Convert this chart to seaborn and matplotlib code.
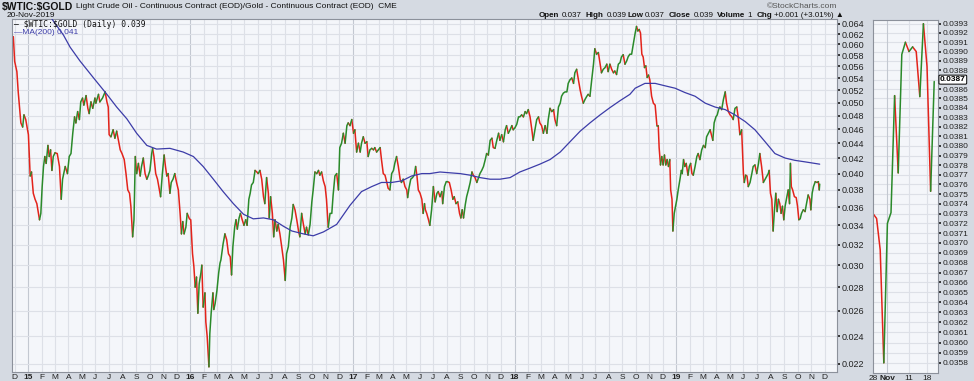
import pandas as pd
import numpy as np
import seaborn as sns
import matplotlib.pyplot as plt
from matplotlib.ticker import FixedLocator, NullLocator, FuncFormatter
from matplotlib.transforms import blended_transform_factory

# ---- data ----
START = pd.Timestamp("2014-11-28")

# days after START, daily close of $WTIC:$GOLD (sampled about twice a week)
price_days = [
    0, 3, 8, 11, 17, 21, 24, 28, 32, 34, 38, 41, 45, 49, 53, 59, 62, 65, 68, 71,
    74, 78, 81, 84, 87, 90, 94, 99, 104, 108, 111, 117, 122, 126, 130, 134, 138, 141, 145, 149,
    152, 156, 159, 164, 168, 171, 175, 179, 184, 186, 192, 195, 201, 207, 211, 214, 216, 220, 225, 229,
    233, 237, 241, 245, 250, 254, 258, 262, 265, 269, 272, 275, 278, 282, 286, 289, 293, 297, 301, 304,
    308, 312, 314, 317, 321, 325, 328, 332, 336, 340, 343, 346, 349, 353, 356, 360, 364, 368, 372, 376,
    379, 382, 385, 389, 392, 397, 400, 404, 407, 410, 413, 416, 419, 423, 425, 428, 432, 434, 437, 441,
    443, 446, 450, 452, 455, 459, 463, 466, 468, 473, 477, 481, 485, 489, 492, 495, 499, 502, 505, 509,
    512, 516, 520, 524, 527, 531, 534, 537, 541, 545, 549, 552, 556, 560, 564, 567, 571, 575, 577, 580,
    584, 587, 590, 594, 597, 601, 605, 609, 613, 616, 620, 624, 628, 631, 635, 639, 643, 646, 650, 654,
    658, 661, 665, 669, 673, 676, 680, 684, 688, 691, 695, 699, 703, 706, 710, 714, 718, 721, 725, 729,
    733, 736, 740, 744, 748, 752, 755, 759, 763, 767, 770, 774, 778, 782, 785, 789, 793, 797, 800, 804,
    808, 812, 815, 819, 823, 827, 830, 834, 838, 842, 845, 849, 853, 857, 860, 864, 868, 872, 875, 879,
    883, 887, 889, 892, 896, 900, 904, 907, 910, 913, 917, 921, 924, 927, 929, 932, 936, 939, 943, 947,
    951, 955, 958, 962, 966, 968, 972, 976, 979, 983, 987, 991, 994, 998, 1002, 1006, 1009, 1012, 1015, 1019,
    1022, 1026, 1030, 1034, 1037, 1041, 1045, 1049, 1052, 1056, 1060, 1064, 1067, 1071, 1075, 1079, 1082, 1086, 1090, 1094,
    1097, 1101, 1105, 1109, 1112, 1116, 1120, 1124, 1127, 1131, 1135, 1139, 1142, 1146, 1150, 1154, 1157, 1161, 1165, 1169,
    1172, 1176, 1180, 1184, 1187, 1191, 1195, 1199, 1203, 1206, 1210, 1214, 1218, 1221, 1225, 1229, 1233, 1236, 1240, 1244,
    1248, 1251, 1255, 1259, 1263, 1266, 1270, 1274, 1278, 1281, 1285, 1289, 1293, 1296, 1300, 1304, 1308, 1311, 1315, 1319,
    1323, 1326, 1330, 1334, 1338, 1341, 1345, 1349, 1353, 1356, 1360, 1364, 1368, 1371, 1375, 1379, 1383, 1386, 1390, 1394,
    1398, 1402, 1405, 1408, 1411, 1414, 1417, 1420, 1423, 1426, 1429, 1432, 1435, 1439, 1443, 1447, 1451, 1454, 1456, 1459,
    1462, 1465, 1468, 1471, 1474, 1477, 1480, 1482, 1485, 1487, 1490, 1493, 1496, 1499, 1503, 1506, 1508, 1511, 1514, 1517,
    1521, 1524, 1527, 1530, 1533, 1537, 1541, 1544, 1548, 1552, 1556, 1560, 1563, 1567, 1571, 1575, 1577, 1580, 1584, 1587,
    1590, 1593, 1597, 1601, 1605, 1608, 1612, 1616, 1620, 1623, 1627, 1631, 1635, 1638, 1642, 1646, 1648, 1651, 1654, 1657,
    1661, 1665, 1668, 1672, 1676, 1680, 1683, 1687, 1691, 1695, 1699, 1702, 1704, 1707, 1710, 1713, 1716, 1719, 1722, 1725,
    1728, 1731, 1734, 1737, 1740, 1744, 1747, 1750, 1752, 1754, 1757, 1761, 1765, 1768, 1771, 1774, 1777, 1781, 1785, 1789,
    1792, 1796, 1798, 1801, 1804, 1808, 1812, 1815, 1817, 1818,
]
price_vals = [
    0.0615, 0.0569, 0.0551, 0.0517, 0.0469, 0.0463, 0.0481, 0.0474, 0.0459, 0.0452, 0.0397, 0.0402, 0.0376, 0.0369, 0.0364, 0.0346, 0.0353, 0.0384, 0.0409, 0.0422,
    0.0413, 0.0437, 0.0422, 0.0431, 0.0404, 0.0422, 0.0427, 0.0426, 0.0409, 0.0369, 0.0393, 0.0409, 0.0400, 0.0422, 0.0426, 0.0454, 0.0478, 0.0469, 0.0486, 0.0474,
    0.0501, 0.0507, 0.0496, 0.0511, 0.0491, 0.0483, 0.0501, 0.0491, 0.0507, 0.0499, 0.0513, 0.0501, 0.0507, 0.0517, 0.0501, 0.0493, 0.0452, 0.0449, 0.0459, 0.0447,
    0.0457, 0.0444, 0.0431, 0.0426, 0.0418, 0.0400, 0.0380, 0.0376, 0.0361, 0.0328, 0.0346, 0.0422, 0.0400, 0.0413, 0.0397, 0.0409, 0.0420, 0.0400, 0.0393, 0.0397,
    0.0404, 0.0426, 0.0433, 0.0422, 0.0400, 0.0393, 0.0384, 0.0372, 0.0400, 0.0424, 0.0409, 0.0397, 0.0400, 0.0376, 0.0389, 0.0393, 0.0400, 0.0389, 0.0380, 0.0353,
    0.0331, 0.0344, 0.0331, 0.0338, 0.0353, 0.0347, 0.0346, 0.0311, 0.0299, 0.0280, 0.0289, 0.0258, 0.0283, 0.0293, 0.0300, 0.0263, 0.0275, 0.0251, 0.0240, 0.0218,
    0.0242, 0.0258, 0.0275, 0.0261, 0.0266, 0.0277, 0.0293, 0.0302, 0.0305, 0.0321, 0.0331, 0.0325, 0.0311, 0.0308, 0.0291, 0.0318, 0.0338, 0.0346, 0.0336, 0.0348,
    0.0353, 0.0346, 0.0340, 0.0346, 0.0340, 0.0369, 0.0376, 0.0386, 0.0389, 0.0404, 0.0402, 0.0400, 0.0404, 0.0393, 0.0372, 0.0364, 0.0395, 0.0376, 0.0348, 0.0372,
    0.0353, 0.0328, 0.0346, 0.0334, 0.0341, 0.0331, 0.0318, 0.0305, 0.0286, 0.0311, 0.0318, 0.0338, 0.0348, 0.0363, 0.0357, 0.0346, 0.0334, 0.0328, 0.0353, 0.0341,
    0.0331, 0.0338, 0.0330, 0.0341, 0.0366, 0.0380, 0.0402, 0.0400, 0.0404, 0.0398, 0.0402, 0.0391, 0.0384, 0.0369, 0.0338, 0.0353, 0.0353, 0.0374, 0.0397, 0.0400,
    0.0380, 0.0434, 0.0440, 0.0454, 0.0440, 0.0465, 0.0469, 0.0465, 0.0474, 0.0454, 0.0459, 0.0428, 0.0440, 0.0428, 0.0440, 0.0449, 0.0440, 0.0442, 0.0422, 0.0431,
    0.0433, 0.0431, 0.0434, 0.0428, 0.0431, 0.0434, 0.0418, 0.0400, 0.0398, 0.0389, 0.0382, 0.0380, 0.0400, 0.0404, 0.0413, 0.0422, 0.0409, 0.0393, 0.0389, 0.0393,
    0.0384, 0.0380, 0.0371, 0.0382, 0.0393, 0.0395, 0.0398, 0.0409, 0.0397, 0.0380, 0.0376, 0.0369, 0.0353, 0.0364, 0.0357, 0.0353, 0.0346, 0.0340, 0.0357, 0.0384,
    0.0366, 0.0376, 0.0378, 0.0372, 0.0378, 0.0364, 0.0384, 0.0390, 0.0390, 0.0389, 0.0380, 0.0369, 0.0372, 0.0364, 0.0366, 0.0353, 0.0348, 0.0357, 0.0348, 0.0363,
    0.0372, 0.0380, 0.0389, 0.0402, 0.0398, 0.0395, 0.0389, 0.0395, 0.0400, 0.0404, 0.0409, 0.0418, 0.0426, 0.0424, 0.0444, 0.0447, 0.0434, 0.0433, 0.0444, 0.0454,
    0.0444, 0.0452, 0.0442, 0.0459, 0.0465, 0.0454, 0.0459, 0.0465, 0.0459, 0.0462, 0.0467, 0.0478, 0.0478, 0.0481, 0.0478, 0.0486, 0.0483, 0.0489, 0.0478, 0.0459,
    0.0444, 0.0459, 0.0474, 0.0478, 0.0469, 0.0465, 0.0454, 0.0465, 0.0454, 0.0474, 0.0491, 0.0486, 0.0489, 0.0474, 0.0465, 0.0493, 0.0499, 0.0510, 0.0515, 0.0517,
    0.0517, 0.0531, 0.0537, 0.0540, 0.0531, 0.0549, 0.0555, 0.0537, 0.0520, 0.0510, 0.0499, 0.0505, 0.0510, 0.0513, 0.0510, 0.0537, 0.0564, 0.0592, 0.0582, 0.0585,
    0.0564, 0.0549, 0.0555, 0.0558, 0.0564, 0.0551, 0.0564, 0.0555, 0.0549, 0.0552, 0.0546, 0.0564, 0.0567, 0.0577, 0.0581, 0.0564, 0.0570, 0.0577, 0.0582, 0.0582,
    0.0602, 0.0622, 0.0635, 0.0626, 0.0629, 0.0622, 0.0582, 0.0577, 0.0558, 0.0561, 0.0541, 0.0545, 0.0537, 0.0510, 0.0499, 0.0496, 0.0465, 0.0465, 0.0434, 0.0411,
    0.0422, 0.0411, 0.0424, 0.0411, 0.0418, 0.0409, 0.0418, 0.0380, 0.0369, 0.0334, 0.0353, 0.0361, 0.0369, 0.0380, 0.0393, 0.0404, 0.0400, 0.0418, 0.0409, 0.0413,
    0.0398, 0.0409, 0.0413, 0.0400, 0.0398, 0.0409, 0.0422, 0.0426, 0.0418, 0.0431, 0.0437, 0.0434, 0.0449, 0.0454, 0.0459, 0.0449, 0.0444, 0.0469, 0.0478, 0.0481,
    0.0489, 0.0493, 0.0489, 0.0505, 0.0517, 0.0499, 0.0486, 0.0481, 0.0478, 0.0474, 0.0491, 0.0493, 0.0474, 0.0452, 0.0459, 0.0400, 0.0389, 0.0398, 0.0397, 0.0384,
    0.0389, 0.0400, 0.0409, 0.0411, 0.0400, 0.0413, 0.0426, 0.0409, 0.0389, 0.0393, 0.0397, 0.0400, 0.0404, 0.0376, 0.0369, 0.0334, 0.0357, 0.0376, 0.0355, 0.0369,
    0.0364, 0.0353, 0.0361, 0.0346, 0.0361, 0.0372, 0.0380, 0.0364, 0.0413, 0.0384, 0.0380, 0.0372, 0.0371, 0.0361, 0.0346, 0.0347, 0.0353, 0.0357, 0.0355, 0.0366,
    0.0374, 0.0369, 0.0357, 0.0376, 0.0384, 0.0390, 0.0389, 0.0390, 0.0380, 0.0387,
]

# 200-day moving average
ma_days = [
    87, 113, 128, 150, 180, 211, 233, 256, 278, 301, 323, 353, 383, 406, 428, 451, 473, 496, 519, 541,
    564, 586, 609, 628, 654, 676, 699, 729, 759, 785, 808, 830, 853, 876, 898, 921, 939, 962, 984, 1007,
    1030, 1052, 1075, 1097, 1120, 1142, 1165, 1187, 1210, 1233, 1255, 1278, 1300, 1323, 1345, 1368, 1390, 1402, 1424, 1447,
    1469, 1492, 1514, 1537, 1560, 1582, 1605, 1627, 1650, 1672, 1695, 1717, 1740, 1762, 1785, 1807, 1818,
]
ma_vals = [
    0.0650, 0.0618, 0.0595, 0.0570, 0.0541, 0.0513, 0.0493, 0.0475, 0.0454, 0.0437, 0.0432, 0.0433, 0.0428, 0.0422, 0.0409, 0.0393, 0.0378, 0.0364, 0.0352, 0.0347,
    0.0348, 0.0346, 0.0339, 0.0334, 0.0331, 0.0329, 0.0333, 0.0341, 0.0362, 0.0378, 0.0384, 0.0389, 0.0389, 0.0391, 0.0397, 0.0400, 0.0400, 0.0402, 0.0401, 0.0400,
    0.0398, 0.0395, 0.0393, 0.0393, 0.0395, 0.0402, 0.0407, 0.0412, 0.0418, 0.0428, 0.0442, 0.0457, 0.0469, 0.0481, 0.0492, 0.0503, 0.0513, 0.0523, 0.0531, 0.0531,
    0.0527, 0.0523, 0.0516, 0.0510, 0.0499, 0.0493, 0.0489, 0.0481, 0.0471, 0.0459, 0.0442, 0.0426, 0.0420, 0.0417, 0.0415, 0.0413, 0.0412,
]

# last month zoom panel (trading days)
zoom_labels = ["Oct 28", "Oct 29", "Oct 30", "Oct 31", "Nov 1", "Nov 4", "Nov 5", "Nov 6", "Nov 7",
               "Nov 8", "Nov 11", "Nov 12", "Nov 13", "Nov 14", "Nov 15", "Nov 18", "Nov 19", "Nov 20"]
zoom_vals = [0.03730, 0.03725, 0.03693, 0.03580, 0.03720, 0.03731, 0.03853, 0.03772, 0.03897,
             0.03910, 0.03900, 0.03905, 0.03900, 0.03852, 0.03930, 0.03884, 0.03753, 0.03868]
last_label = "0.0387"

main_ticks = [round(0.022 + 0.002 * i, 3) for i in range(22)]
zoom_ticks = [round(0.0358 + 0.0001 * i, 4) for i in range(36)]

# quote line in the header: (label, value, x of label, x of value)
stats = [("Open", "0.037", 539, 562), ("High", "0.039", 585, 607), ("Low", "0.037", 627, 645),
         ("Close", "0.039", 669, 694), ("Volume", "1", 717, 747), ("Chg", "+0.001 (+3.01%) \u25b2", 757, 774)]

UP = "#2a8a2a"
DOWN = "#e3231b"
MA_COLOR = "#3c3ca8"


def up_down_runs(x, y):
    # split a series into runs of rising / falling segments so each run gets one colour
    rows = []
    run, prev = 0, None
    for i in range(len(y) - 1):
        d = "up" if y[i + 1] >= y[i] else "down"
        if d != prev:
            run += 1
            rows.append((run, d, x[i], y[i]))
        rows.append((run, d, x[i + 1], y[i + 1]))
        prev = d
    return pd.DataFrame(rows, columns=["run", "dir", "x", "value"])


sns.set_theme(style="white")
plt.rcParams["font.family"] = ["Liberation Sans", "DejaVu Sans"]

W, H = 974, 381
fig = plt.figure(figsize=(W / 100, H / 100), dpi=100, facecolor="#d5dae2")


def fx(x):
    return x / W


def fy(y):
    return 1 - y / H


ax = fig.add_axes([fx(12), fy(372), 825 / W, 353 / H], facecolor="#f4f6fa")
ax2 = fig.add_axes([fx(873), fy(373), 65 / W, 353 / H], facecolor="#f4f6fa")

# ---- main chart ----
dates = START + pd.to_timedelta(price_days, unit="D")
df = up_down_runs(list(dates), price_vals)
ma = pd.DataFrame({"date": START + pd.to_timedelta(ma_days, unit="D"), "value": ma_vals})

ax.set_yscale("log")
months = pd.date_range("2014-12-01", "2019-12-01", freq="MS")
for m in months:
    ax.axvline(m, color="#c3c8d1" if m.month == 1 else "#dde0e7", lw=0.8, zorder=0)
for t in main_ticks:
    ax.axhline(t, color="#dde0e7", lw=0.8, zorder=0)

sns.lineplot(data=ma, x="date", y="value", color=MA_COLOR, lw=0.9, ax=ax, zorder=3)
sns.lineplot(data=df, x="x", y="value", hue="dir", units="run", estimator=None,
             palette={"up": UP, "down": DOWN}, legend=False, lw=1.1, sort=False, ax=ax, zorder=2)

ax.set_xlim(START - pd.Timedelta(days=3), START + pd.Timedelta(days=1857))
ax.set_ylim(0.02145, 0.0650)
ax.yaxis.set_major_locator(FixedLocator(main_ticks))
ax.yaxis.set_minor_locator(NullLocator())
ax.yaxis.set_major_formatter(FuncFormatter(lambda v, p: f"{v:.3f}"))
ax.yaxis.tick_right()
ax.tick_params(axis="y", labelsize=6.5, length=2, pad=1, colors="#222222", right=True)
ax.set_xticks(months)
ax.set_xticklabels([f"{m.year % 100}" if m.month == 1 else m.strftime("%b")[0] for m in months])
for lab, m in zip(ax.get_xticklabels(), months):
    if m.month == 1:
        lab.set_fontweight("bold")
ax.tick_params(axis="x", labelsize=6, length=0, pad=1.5, colors="#222222")
ax.set_xlabel("")
ax.set_ylabel("")
for s in ax.spines.values():
    s.set_color("#8c919b")
    s.set_linewidth(0.8)

# ---- zoom panel ----
zdf = up_down_runs(list(range(len(zoom_vals))), zoom_vals)
ax2.set_yscale("log")
for t in zoom_ticks:
    ax2.axhline(t, color="#dde0e7", lw=0.8, zorder=0)
for i in [4, 10, 15]:
    ax2.axvline(i, color="#c3c8d1" if i == 4 else "#dde0e7", lw=0.8, zorder=0)
sns.lineplot(data=zdf, x="x", y="value", hue="dir", units="run", estimator=None,
             palette={"up": UP, "down": DOWN}, legend=False, lw=1.1, sort=False, ax=ax2)
ax2.set_xlim(0, 18.05)
ax2.set_ylim(0.03570, 0.03934)
ax2.yaxis.set_major_locator(FixedLocator(zoom_ticks))
ax2.yaxis.set_minor_locator(NullLocator())
# the current-value badge sits on the 0.0387 row, so that row's plain label is left out
ax2.yaxis.set_major_formatter(FuncFormatter(lambda v, p: "" if f"{v:.4f}" == last_label else f"{v:.4f}"))
ax2.yaxis.tick_right()
ax2.tick_params(axis="y", labelsize=6, length=2, pad=1, colors="#222222", right=True)
ax2.set_xticks([0, 4, 10, 15])
ax2.set_xticklabels(["28", "Nov", "11", "18"])
ax2.get_xticklabels()[1].set_fontweight("bold")
ax2.tick_params(axis="x", labelsize=6, length=0, pad=1.5, colors="#222222")
ax2.set_xlabel("")
ax2.set_ylabel("")
for s in ax2.spines.values():
    s.set_color("#8c919b")
    s.set_linewidth(0.8)

tr = blended_transform_factory(ax2.transAxes, ax2.transData)
ax2.text(1.03, float(last_label), last_label, transform=tr, fontsize=6, fontweight="bold",
         va="center", ha="left", color="black",
         bbox=dict(boxstyle="round,pad=0.12", fc="white", ec="black", lw=0.7), zorder=5)

# ---- header and legend texts ----
fig.text(fx(2), fy(7), r"\$WTIC:\$GOLD", fontsize=7.5, fontweight="bold", va="center", color="#111111")
fig.text(fx(76), fy(7), "Light Crude Oil - Continuous Contract (EOD)/Gold - Continuous Contract (EOD)  CME",
         fontsize=6, va="center", color="#111111")
fig.text(fx(7), fy(15.5), "20-Nov-2019", fontsize=6, va="center", color="#111111")
fig.text(fx(837), fy(7), "\u00a9StockCharts.com", fontsize=6, va="center", ha="right", color="#555555")

for name, val, xl, xv in stats:
    fig.text(fx(xl), fy(15.5), name, fontsize=5.8, fontweight="bold", va="center", color="#111111")
    fig.text(fx(xv), fy(15.5), val, fontsize=5.8, va="center", color="#111111")

ax.text(0.002, 0.985, "\u2014 \\$WTIC:\\$GOLD (Daily) 0.039", transform=ax.transAxes, fontsize=5.8,
        family="DejaVu Sans Mono", va="center", ha="left", color="#111111")
ax.text(0.002, 0.962, "\u2014MA(200) 0.041", transform=ax.transAxes, fontsize=6,
        va="center", ha="left", color=MA_COLOR)

fig.savefig("out.png", dpi=100, facecolor=fig.get_facecolor())
